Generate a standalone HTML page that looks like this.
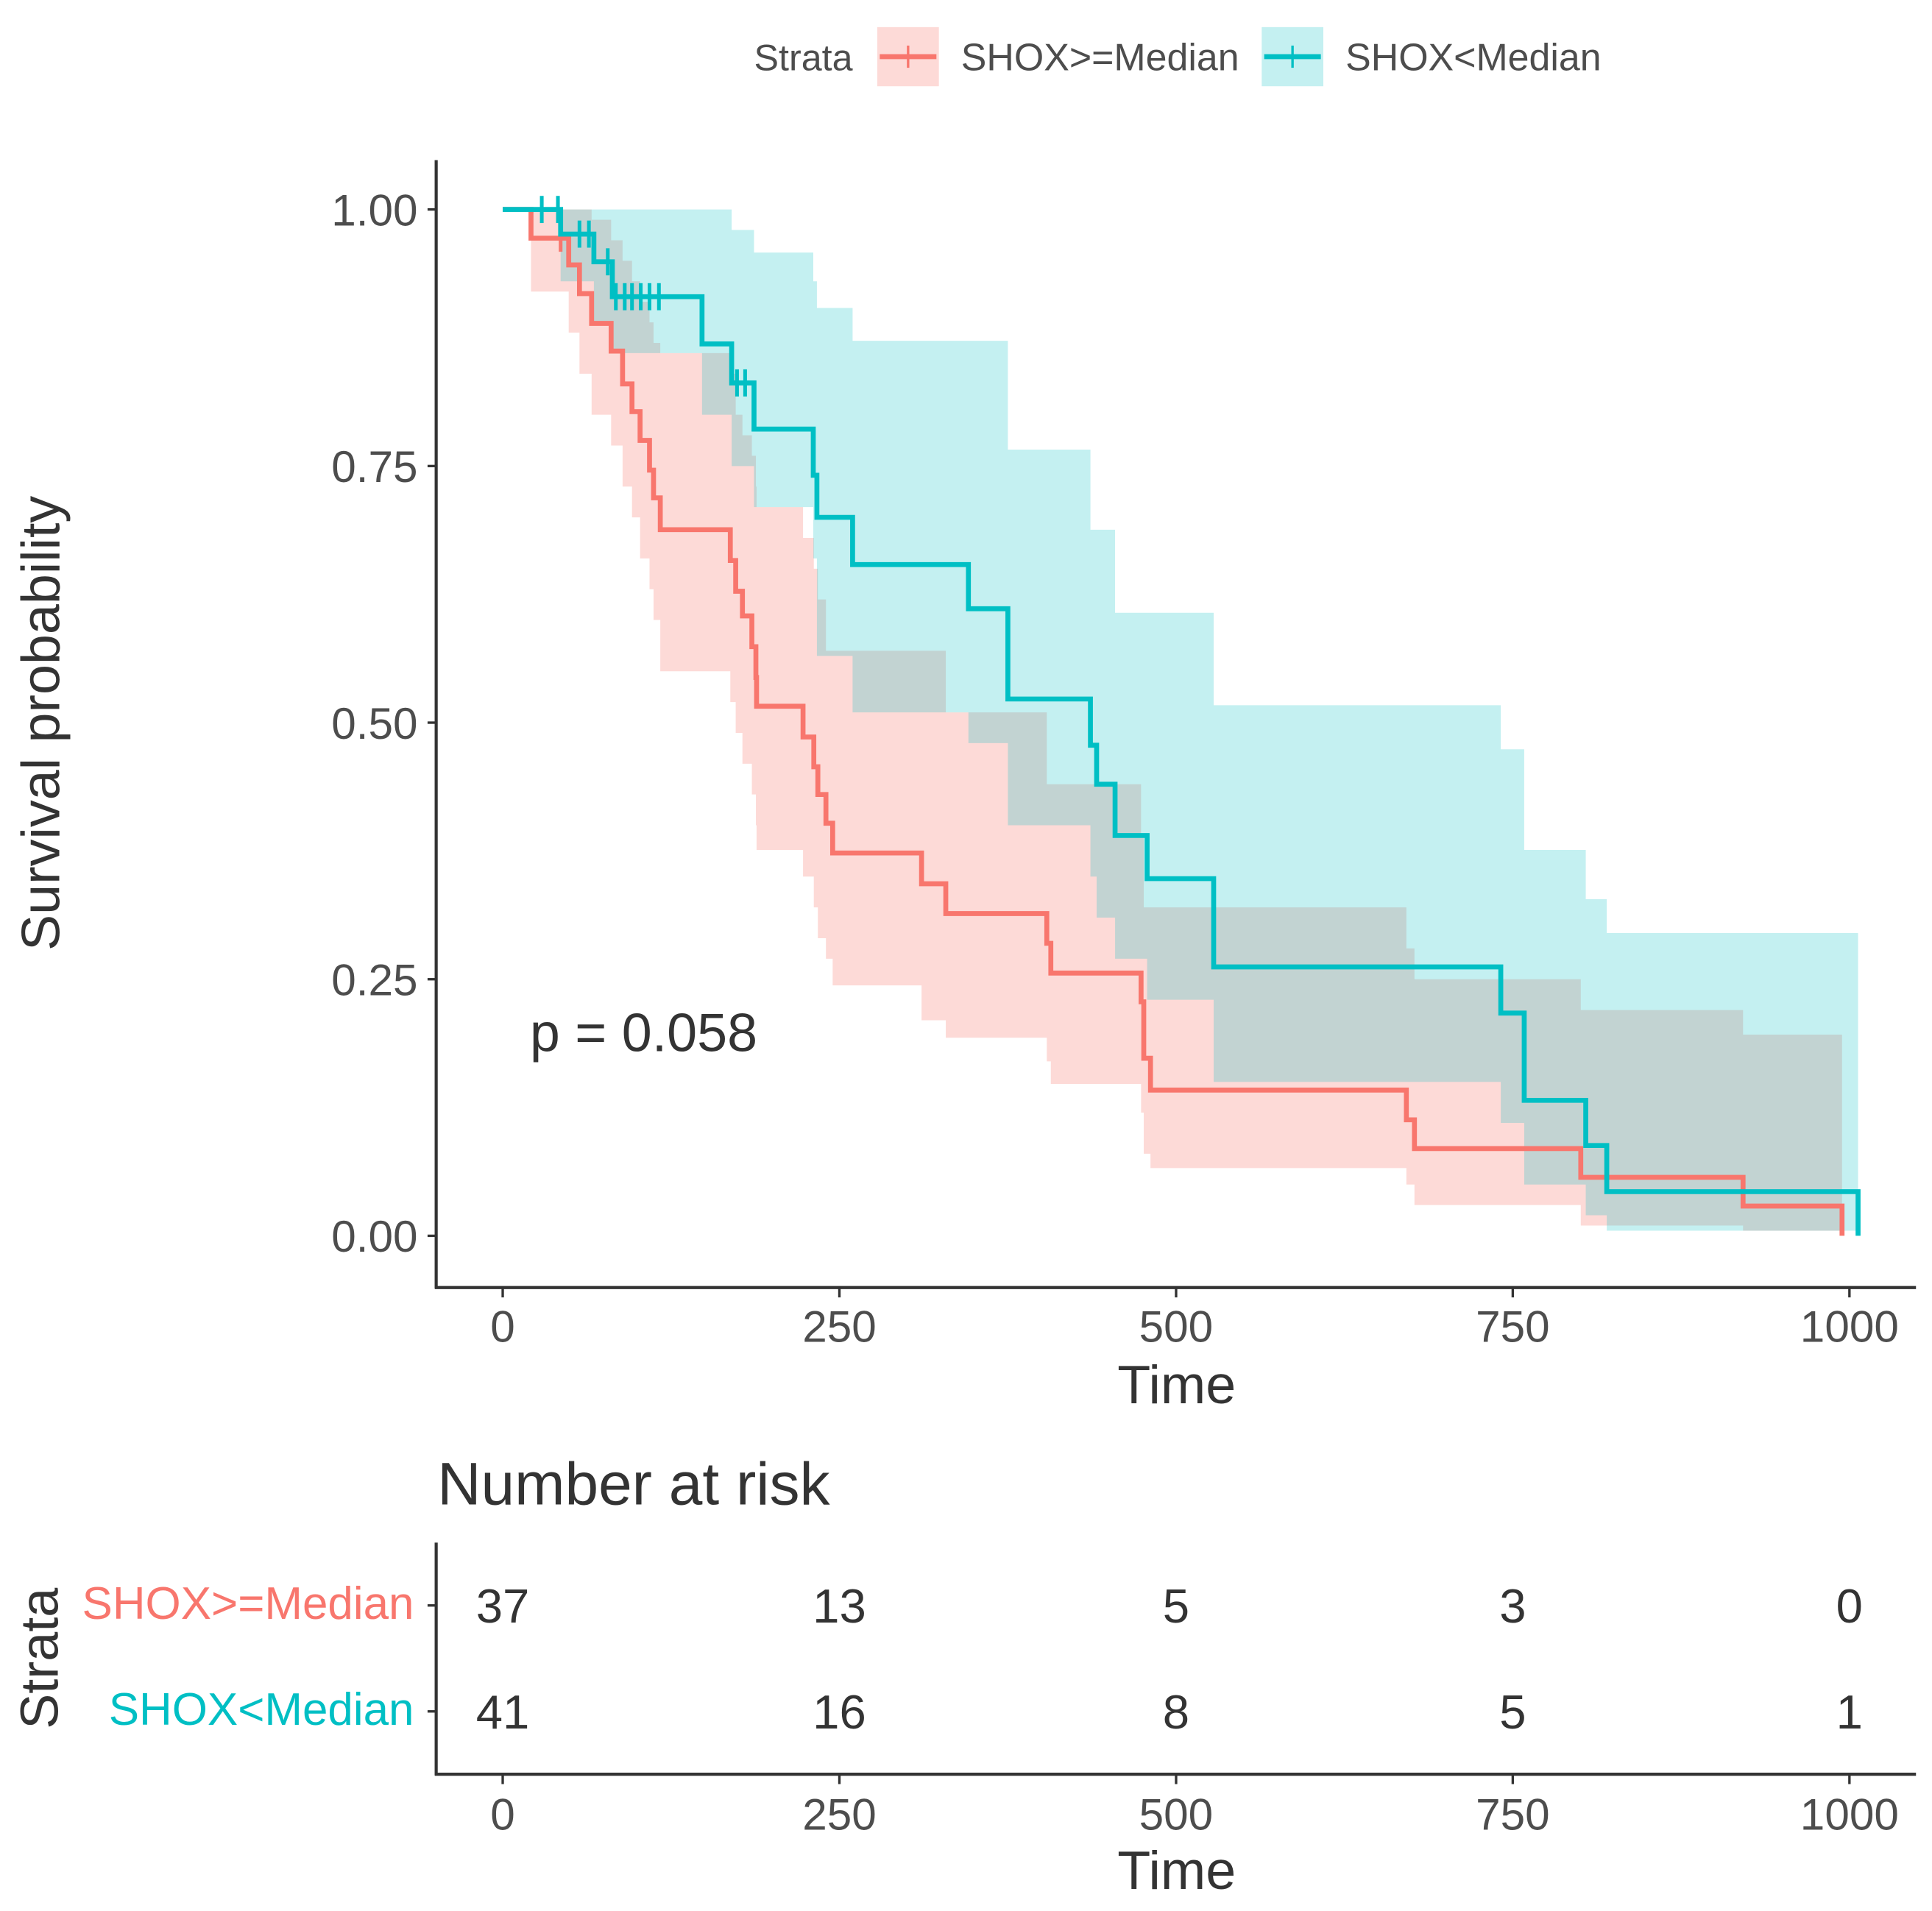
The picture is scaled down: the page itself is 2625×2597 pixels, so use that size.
<!DOCTYPE html>
<html><head><meta charset="utf-8"><style>
html,body{margin:0;padding:0;background:#fff;}
svg{display:block;}
text{font-family:"Liberation Sans",Arial,sans-serif;}
</style></head><body>
<svg id="chart" width="2625" height="2597" viewBox="0 0 1568 1551" preserveAspectRatio="none" xmlns="http://www.w3.org/2000/svg">
<rect width="1568" height="1551" fill="#fff"/>
<g id="legend">
  <text x="612" y="57" font-size="30" fill="#4d4d4d">Strata</text>
  <g>
    <rect x="712" y="22" width="50" height="48" fill="#F8766D" fill-opacity="0.27"/>
    <line x1="714" y1="46" x2="760" y2="46" stroke="#F8766D" stroke-width="4"/>
    <line x1="737" y1="37" x2="737" y2="55" stroke="#F8766D" stroke-width="2"/>
    <text x="780" y="57" font-size="31" fill="#4d4d4d">SHOX&gt;=Median</text>
  </g>
  <g>
    <rect x="1024" y="22" width="50" height="48" fill="#00BFC4" fill-opacity="0.23"/>
    <line x1="1026" y1="46" x2="1072" y2="46" stroke="#00BFC4" stroke-width="4"/>
    <line x1="1049" y1="37" x2="1049" y2="55" stroke="#00BFC4" stroke-width="2"/>
    <text x="1092" y="57" font-size="31" fill="#4d4d4d">SHOX&lt;Median</text>
  </g>
</g>
<g id="bands"></g>
<g id="lines"></g>
<g id="axes"></g>
<text x="430" y="853" font-size="44" fill="#333">p = 0.058</text>
<text x="955" y="1139" font-size="44" fill="#333" text-anchor="middle">Time</text>
<text transform="translate(48,587) rotate(-90)" font-size="44" fill="#333" text-anchor="middle">Survival probability</text>
<text x="355" y="1221" font-size="49" fill="#333">Number at risk</text>
<text transform="translate(47,1346) rotate(-90)" font-size="43" fill="#333" text-anchor="middle">Strata</text>
<text x="336" y="1314" font-size="37" fill="#F8766D" text-anchor="end">SHOX&gt;=Median</text>
<text x="336" y="1400" font-size="37" fill="#00BFC4" text-anchor="end">SHOX&lt;Median</text>
<text x="955" y="1533" font-size="44" fill="#333" text-anchor="middle">Time</text>
<g id="risk"></g>
</svg>
<script>
const NS="http://www.w3.org/2000/svg";
const xTicks=[0,250,500,750,1000];
const yTicks=[0,0.25,0.5,0.75,1];
const yTickLabels=["0.00","0.25","0.50","0.75","1.00"];
const highTimes=[21,49,57,66,80.5,89,96,102,109,112,117,169,173,178,185,188,188.5,223,231,234,240,245,311,329,404,407,474,476,481,671,677,800.5,921,994.5];
const highSurv=[0.972,0.946,0.918,0.889,0.862,0.830,0.803,0.775,0.746,0.719,0.688,0.658,0.628,0.604,0.574,0.544,0.516,0.486,0.457,0.430,0.402,0.373,0.343,0.314,0.285,0.256,0.228,0.173,0.142,0.113,0.085,0.057,0.029,0];
const highLower=[0.92,0.88,0.84,0.80,0.77,0.73,0.70,0.66,0.63,0.60,0.55,0.52,0.49,0.46,0.43,0.40,0.376,0.35,0.32,0.29,0.27,0.244,0.21,0.193,0.17,0.148,0.12,0.08,0.066,0.05,0.03,0.01,0.005,0];
const highUpper=[1,1,1,0.99,0.97,0.95,0.93,0.91,0.89,0.87,0.86,0.84,0.80,0.78,0.76,0.73,0.71,0.68,0.65,0.62,0.57,0.57,0.57,0.51,0.44,0.44,0.39,0.32,0.32,0.28,0.25,0.22,0.196,0];
const highCensor=[43];
const highCensorSurv=[0.972];
const lowTimes=[43,67.7,81.4,148,170,186.6,230.6,233.3,259.8,345.8,375.1,436.4,441,454.7,478.5,527.9,741.1,758.5,804.2,819.8,1006.4];
const lowSurv=[0.976,0.949,0.915,0.869,0.831,0.786,0.741,0.700,0.654,0.611,0.523,0.478,0.440,0.390,0.348,0.262,0.217,0.132,0.088,0.043,0];
const lowLower=[0.93,0.89,0.86,0.80,0.75,0.71,0.66,0.565,0.51,0.48,0.40,0.35,0.31,0.27,0.23,0.15,0.11,0.05,0.02,0.005,0];
const lowUpper=[1,1,1,1,0.98,0.958,0.93,0.904,0.872,0.872,0.766,0.688,0.688,0.607,0.607,0.517,0.474,0.376,0.328,0.295,0];
const lowCensor=[29,41,57,64,78,84,90.6,96,102.5,109,116,174,180];
const lowCensorSurv=[1,1,0.976,0.976,0.949,0.915,0.915,0.915,0.915,0.915,0.915,0.831,0.831];
const riskHigh=[37,13,5,3,0];
const riskLow=[41,16,8,5,1];

const X=t=>408+t*1.093;
const Y=s=>1003-s*833;
function mk(tag,attrs,parent){const e=document.createElementNS(NS,tag);for(const k in attrs)e.setAttribute(k,attrs[k]);parent.appendChild(e);return e;}
const bands=document.getElementById('bands'),lines=document.getElementById('lines'),axes=document.getElementById('axes'),risk=document.getElementById('risk');

function band(times,lo,up,color,op,name){
  let top=[],bot=[];
  for(let i=0;i<times.length-1;i++){
    top.push([X(times[i]),Y(up[i])],[X(times[i+1]),Y(up[i])]);
    bot.push([X(times[i]),Y(lo[i])],[X(times[i+1]),Y(lo[i])]);
  }
  const pts=top.concat(bot.reverse()).map(p=>p.join(',')).join(' ');
  const p=mk('polygon',{points:pts,fill:color,'fill-opacity':op},bands);
  
  
}
function curve(times,surv,color,name,ct,cs){
  let d='M'+X(0)+','+Y(1);
  for(let i=0;i<times.length;i++){d+=' H'+X(times[i])+' V'+Y(surv[i]);}
  const p=mk('path',{d:d,fill:'none',stroke:color,'stroke-width':4},lines);
  
  
  for(let i=0;i<ct.length;i++){
    const c=mk('line',{x1:X(ct[i]),x2:X(ct[i]),y1:Y(cs[i])-11,y2:Y(cs[i])+11,stroke:color,'stroke-width':3},lines);
    
    
  }
}
band(highTimes,highLower,highUpper,'#F8766D',0.27,'ci-band-high');
band(lowTimes,lowLower,lowUpper,'#00BFC4',0.23,'ci-band-low');
curve(highTimes,highSurv,'#F8766D','survival-curve-high',highCensor,highCensorSurv);
curve(lowTimes,lowSurv,'#00BFC4','survival-curve-low',lowCensor,lowCensorSurv);

let a=mk('line',{x1:354,y1:130,x2:354,y2:1046,stroke:'#333','stroke-width':2.5},axes);


a=mk('line',{x1:353,y1:1045,x2:1555,y2:1045,stroke:'#333','stroke-width':2.5},axes);


yTicks.forEach((v,i)=>{
  mk('line',{x1:347,x2:354,y1:Y(v),y2:Y(v),stroke:'#333','stroke-width':2},axes);
  const t=mk('text',{x:339,y:Y(v)+13,'font-size':36,fill:'#4d4d4d','text-anchor':'end'},axes);
  t.textContent=yTickLabels[i];
  
  
});
xTicks.forEach(v=>{
  mk('line',{x1:X(v),x2:X(v),y1:1045,y2:1053,stroke:'#333','stroke-width':2},axes);
  const t=mk('text',{x:X(v),y:1089,'font-size':36,fill:'#4d4d4d','text-anchor':'middle'},axes);
  t.textContent=v;
  
  
});
a=mk('line',{x1:354,y1:1252,x2:354,y2:1441,stroke:'#333','stroke-width':2.5},risk);


a=mk('line',{x1:353,y1:1440,x2:1555,y2:1440,stroke:'#333','stroke-width':2.5},risk);


[1303,1389].forEach(y=>mk('line',{x1:347,x2:354,y1:y,y2:y,stroke:'#333','stroke-width':2},risk));
xTicks.forEach((v,i)=>{
  mk('line',{x1:X(v),x2:X(v),y1:1440,y2:1448,stroke:'#333','stroke-width':2},risk);
  let t=mk('text',{x:X(v),y:1485,'font-size':36,fill:'#4d4d4d','text-anchor':'middle'},risk);
  t.textContent=v;
  
  
  t=mk('text',{x:X(v),y:1317,'font-size':39,fill:'#333','text-anchor':'middle'},risk);
  t.textContent=riskHigh[i];
  
  
  t=mk('text',{x:X(v),y:1403,'font-size':39,fill:'#333','text-anchor':'middle'},risk);
  t.textContent=riskLow[i];
  
  
});
</script>
</body></html>
